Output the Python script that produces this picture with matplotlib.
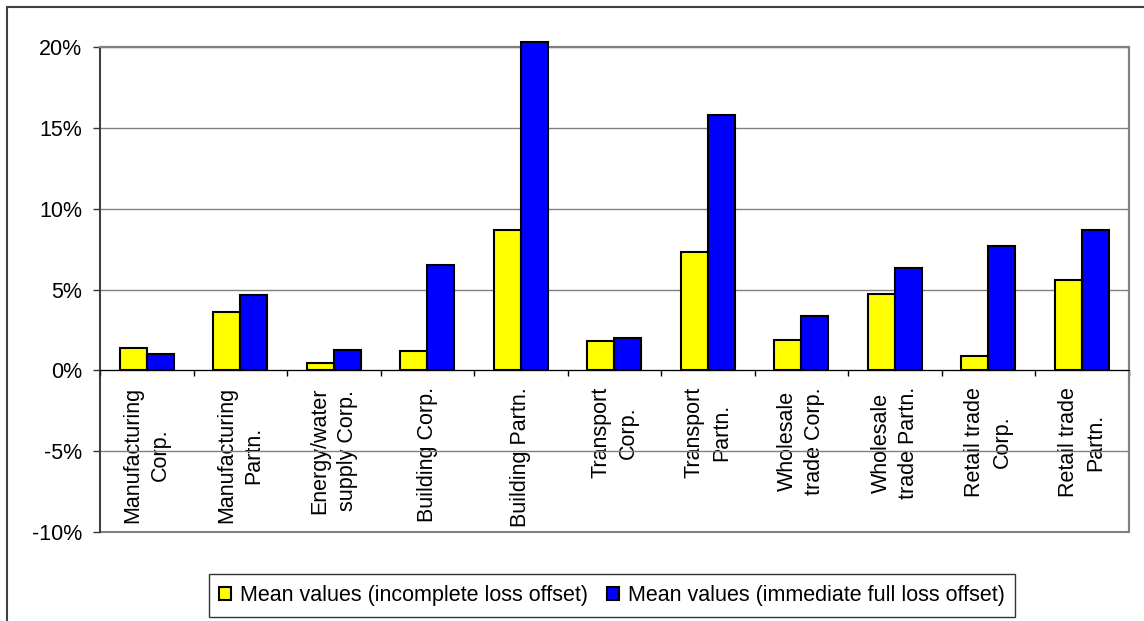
import numpy as np
import matplotlib
matplotlib.use("Agg")
import matplotlib.pyplot as plt
from matplotlib.patches import Rectangle
from matplotlib.ticker import FuncFormatter, FixedLocator

plt.rcParams['font.family'] = ['Liberation Sans', 'DejaVu Sans']

# sector / legal form groups
categories = ["Manufacturing\nCorp.", "Manufacturing\nPartn.", "Energy/water\nsupply Corp.",
              "Building Corp.", "Building Partn.", "Transport\nCorp.", "Transport\nPartn.",
              "Wholesale\ntrade Corp.", "Wholesale\ntrade Partn.", "Retail trade\nCorp.",
              "Retail trade\nPartn."]

# mean values in percent
incomplete_offset = [1.38, 3.58, 0.48, 1.22, 8.65, 1.84, 7.29, 1.85, 4.70, 0.87, 5.59]
full_offset = [1.03, 4.68, 1.23, 6.54, 20.3, 1.99, 15.78, 3.33, 6.32, 7.68, 8.67]

series_labels = ["Mean values (incomplete loss offset)",
                 "Mean values (immediate full loss offset)"]
y_ticks = [-10, -5, 0, 5, 10, 15, 20]

fig = plt.figure(figsize=(11.44, 6.21), dpi=100)
ax = fig.add_axes([100 / 1144, 1 - 532 / 621, 1028.5 / 1144, 485 / 621])

x = np.arange(len(categories))
w = 0.29
ax.bar(x - w / 2, incomplete_offset, w, color="#ffff00", edgecolor="black",
       linewidth=1.5, label=series_labels[0], zorder=3, clip_on=False)
ax.bar(x + w / 2, full_offset, w, color="#0000ff", edgecolor="black",
       linewidth=1.5, label=series_labels[1], zorder=3, clip_on=False)

ax.set_xlim(-0.5, len(categories) - 0.5)
ax.set_ylim(-10, 20)
ax.set_yticks(y_ticks)
ax.yaxis.set_major_formatter(FuncFormatter(lambda v, p: f"{v:.0f}%"))
ax.yaxis.grid(True, color="#808080", linewidth=1, zorder=0)
ax.tick_params(axis="y", direction="out", length=5, width=1, pad=8,
               labelsize=15.5, color="#333333")

# category axis sits on the zero line, separator ticks between groups
ax.spines["bottom"].set_position(("data", 0))
ax.spines["bottom"].set_color("black")
ax.spines["bottom"].set_zorder(4)
ax.set_xticks(x)
ax.set_xticklabels(categories, rotation=90, multialignment="center", linespacing=1.4)
ax.xaxis.set_minor_locator(FixedLocator(np.arange(-0.5, len(categories), 1)))
ax.tick_params(axis="x", which="major", length=0, pad=12, labelsize=15.5)
ax.tick_params(axis="x", which="minor", direction="out", length=4, width=1, color="black")

ax.spines["left"].set_color("#333333")
ax.spines["left"].set_linewidth(1.2)
for side in ["top", "right"]:
    ax.spines[side].set_color("#808080")
    ax.spines[side].set_linewidth(1.5)

# plot area frame (bottom edge at -10%)
ax.add_patch(Rectangle((0, 0), 1, 1, transform=ax.transAxes, fill=False,
                       edgecolor="#808080", linewidth=1.5, clip_on=False, zorder=1))

leg = fig.legend(loc="center", bbox_to_anchor=(612 / 1144, 1 - 595.5 / 621), ncol=2,
                 fontsize=15.5, frameon=True, fancybox=False, framealpha=1,
                 edgecolor="#333333", handlelength=0.55, handleheight=0.55,
                 handletextpad=0.4, columnspacing=0.9, borderpad=0.5,
                 borderaxespad=0)
leg.get_frame().set_linewidth(1)

# chart area border
fig.add_artist(Rectangle((7 / 1144, -0.1), 1.2, 1.1 - 6.5 / 621, transform=fig.transFigure,
                         fill=False, edgecolor="#404040", linewidth=1.5))

fig.savefig("out.png", dpi=100)
